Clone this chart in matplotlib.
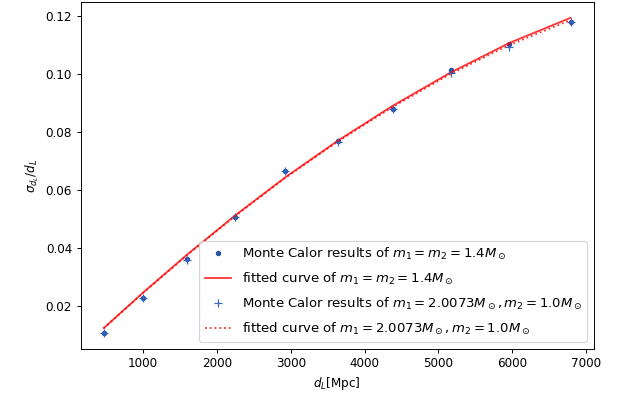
import numpy as np
import matplotlib
matplotlib.use('Agg')
import matplotlib.pyplot as plt

# luminosity distances [Mpc]
dL = np.array([470, 1000, 1600, 2245, 2920, 3640, 4380, 5165, 5960, 6790])

# Monte Carlo results, equal masses 1.4 / 1.4
sig_eq = np.array([0.0105, 0.0228, 0.0360, 0.0506, 0.0666, 0.0768, 0.0880, 0.1012, 0.1104, 0.1181])
fit_eq = np.array([0.0123, 0.0245, 0.0377, 0.0511, 0.0642, 0.0770, 0.0890, 0.1005, 0.1107, 0.1194])

# Monte Carlo results, m1 = 2.0073, m2 = 1.0
sig_neq = np.array([0.0105, 0.0226, 0.0358, 0.0506, 0.0664, 0.0766, 0.0878, 0.1004, 0.1093, 0.1178])
fit_neq = np.array([0.0122, 0.0244, 0.0375, 0.0509, 0.0640, 0.0767, 0.0886, 0.1000, 0.1100, 0.1186])

fig = plt.figure(figsize=(618/86.4, 400/86.4), dpi=86.4)
ax = fig.add_axes([80.5/618, 1-349/400, (594-80.5)/618, (349-2)/400])

ax.plot(dL, sig_eq, '.', color='#2a52a6', markersize=7, label=r'Monte Calor results of $m_1=m_2=1.4M_\odot$')
ax.plot(dL, fit_eq, '-', color='red', alpha=0.8, label=r'fitted curve of $m_1=m_2=1.4M_\odot$')
ax.plot(dL, sig_neq, '+', color='#3563c0', markersize=7, label=r'Monte Calor results of $m_1=2.0073M_\odot,m_2=1.0M_\odot$')
ax.plot(dL, fit_neq, ':', color='red', alpha=0.8, label=r'fitted curve of $m_1=2.0073M_\odot,m_2=1.0M_\odot$')

ax.set_xlabel(r'$d_L$[Mpc]')
ax.set_ylabel(r'$\sigma_{d_L}/d_L$')
ax.legend(loc='lower right', fontsize=11, labelspacing=0.68)

fig.savefig('out.png', dpi=86.4)
